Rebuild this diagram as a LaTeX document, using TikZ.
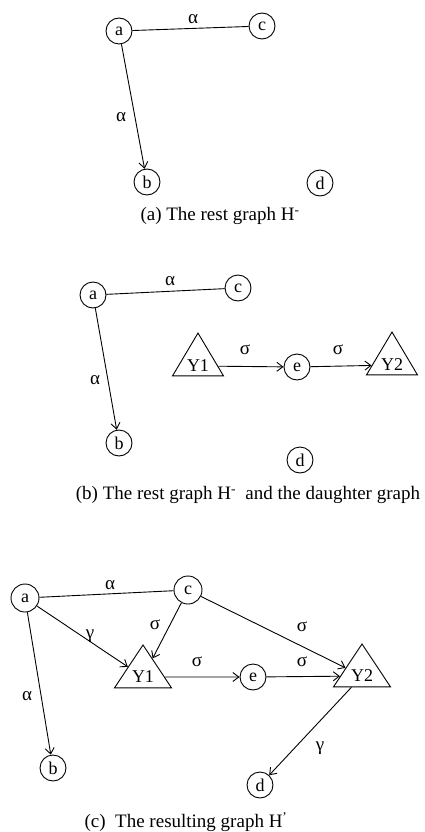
\documentclass[tikz,border=0pt]{standalone}
\usepackage{fontspec}
\setmainfont{Liberation Serif}
\usetikzlibrary{arrows.meta,shapes.geometric}
\begin{document}
\begin{tikzpicture}[x=1pt,y=-1pt,
  vtx/.style={circle,draw,line width=0.9pt,minimum size=26pt,inner sep=0pt,font=\fontsize{18}{20}\selectfont},
  tri/.style={isosceles triangle,shape border rotate=90,isosceles triangle stretches,draw,line width=0.9pt,
      minimum width=54pt,minimum height=35pt,inner sep=1pt,font=\fontsize{18}{20}\selectfont},
  lab/.style={inner sep=0pt,font=\fontsize{19}{21}\selectfont},
  captxt/.style={inner sep=0pt,font=\fontsize{19}{22}\selectfont},
  plainln/.style={line width=0.9pt},
  arr/.style={line width=0.9pt,-{Straight Barb[length=6pt,width=9pt]}}]
\useasboundingbox[fill=white] (0,0) rectangle (425,832);
% ---------- panel (a)
\node[vtx] (a1) at (119,31) {a};
\node[vtx] (c1) at (262,26) {c};
\node[vtx] (b1) at (147,182) {b};
\node[vtx] (d1) at (320,183) {d};
\draw[plainln] (a1) -- (c1);
\draw[arr] (a1) -- (b1);
\node[lab] (la1) at (193,19) {α};
\node[lab] (lb1) at (121,117) {α};
\node[captxt] (cap1) at (220,216) {(a) The rest graph H\textsuperscript{-}};
% ---------- panel (b)
\node[vtx] (a2) at (93,295) {a};
\node[vtx] (c2) at (238,288) {c};
\node[vtx] (b2) at (119,443) {b};
\node[vtx] (d2) at (300,460) {d};
\node[tri,minimum width=51pt,minimum height=33pt] (y21) at (198,366) {Y1};
\node[vtx] (e2) at (297,367) {e};
\node[tri,minimum width=51pt,minimum height=33pt] (y22) at (392,365) {Y2};
\draw[plainln] (a2) -- (c2);
\draw[arr] (a2) -- (b2);
\draw[arr] (y21) -- (e2);
\draw[arr] (e2) -- (y22);
\node[lab] (la2) at (170,281) {α};
\node[lab] (lb2) at (95,380) {α};
\node[lab] (ls21) at (245,350) {σ};
\node[lab] (ls22) at (338,350) {σ};
\node[captxt] (cap2) at (248,495) {(b) The rest graph H\textsuperscript{-}\ \ and the daughter graph};
% ---------- panel (c)
\node[vtx,minimum size=28pt] (a3) at (25,598) {a};
\node[vtx,minimum size=28pt] (c3) at (188,590) {c};
\node[vtx] (b3) at (53,768) {b};
\node[vtx] (d3) at (260,785) {d};
\node[tri,minimum width=57pt,minimum height=36pt] (y31) at (143,677) {Y1};
\node[vtx] (e3) at (253,677) {e};
\node[tri,minimum width=57pt,minimum height=36pt] (y32) at (362,676) {Y2};
\draw[plainln] (a3) -- (c3);
\draw[arr] (a3) -- (b3);
\draw[arr] (a3) -- (y31);
\draw[arr] (c3) -- (y31);
\draw[arr] (c3) -- (y32);
\draw[arr] (y31) -- (e3);
\draw[arr] (e3) -- (y32);
\draw[arr] (y32) -- (d3);
\node[lab] (la3) at (110,585) {α};
\node[lab] (lg31) at (90,636) {γ};
\node[lab] (ls31) at (155,625) {σ};
\node[lab] (ls32) at (302,627) {σ};
\node[lab] (ls33) at (197,662) {σ};
\node[lab] (ls34) at (302,662) {σ};
\node[lab] (lb3) at (27,696) {α};
\node[lab] (lg32) at (320,748) {γ};
\node[captxt] (cap3) at (186,822) {(c)\ \ The resulting graph H\textsuperscript{'}};
\end{tikzpicture}
\end{document}
